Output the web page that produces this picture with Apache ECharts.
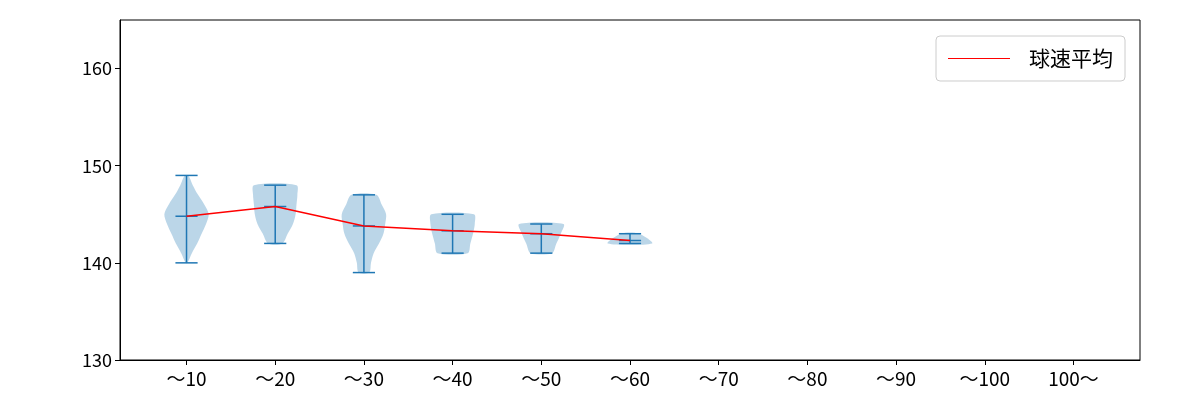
<!doctype html>
<html>
<head>
<meta charset="UTF-8">
<script src="https://cdn.jsdelivr.net/npm/echarts@6/dist/echarts.min.js"></script>
<style>
  html, body { margin: 0; padding: 0; background: #fff; }
  #chart { width: 1200px; height: 400px; }
</style>
</head>
<body>
<div id="chart"></div>
<script>
var categories = ['～10', '～20', '～30', '～40', '～50', '～60', '～70', '～80', '～90', '～100', '100～'];
var means = [144.8, 145.8, 143.8, 143.3, 143.0, 142.3];
var mins  = [140, 142, 139, 141, 141, 142];
var maxs  = [149, 148, 147, 145, 144, 143];
// violin profiles: [speed, half width in category units]
var shape10 = [[140,0.01],[141,0.06],[142,0.12],[143,0.17],[144,0.22],[145,0.25],[146,0.2],[147,0.13],[148,0.07],[149,0.02]];
var shape20 = [[142,0.08],[143,0.14],[144,0.2],[145,0.23],[146,0.24],[147,0.25],[148,0.24]];
var shape30 = [[139,0.06],[140,0.08],[141,0.11],[142,0.17],[143,0.22],[144,0.24],[145,0.25],[146,0.2],[147,0.14]];
var shape40 = [[141,0.17],[142,0.2],[143,0.23],[144,0.25],[145,0.24]];
var shape50 = [[141,0.12],[142,0.17],[143,0.22],[144,0.25]];
var shape60 = [[142,0.25],[143,0.1]];
var shapes = [shape10, shape20, shape30, shape40, shape50, shape60];

var chart = echarts.init(document.getElementById('chart'));

function violin(params, api) {
  var i = api.value(0);
  var prof = shapes[i];
  var right = [], left = [];
  prof.forEach(function (p) {
    right.push(api.coord([i + 1 + p[1], p[0]]));
    left.unshift(api.coord([i + 1 - p[1], p[0]]));
  });
  return {
    type: 'polygon',
    shape: { points: right.concat(left), smooth: 0.3 },
    style: { fill: 'rgba(31,119,180,0.3)', stroke: 'none' }
  };
}

function whisker(params, api) {
  var i = api.value(0);
  var x = i + 1, c = 0.125;
  var st = { stroke: '#1f77b4', lineWidth: 1.5 };
  function seg(x1, y1, x2, y2) {
    var a = api.coord([x1, y1]), b = api.coord([x2, y2]);
    return { type: 'line', shape: { x1: a[0], y1: a[1], x2: b[0], y2: b[1] }, style: st };
  }
  return {
    type: 'group',
    children: [
      seg(x, mins[i], x, maxs[i]),
      seg(x - c, mins[i], x + c, mins[i]),
      seg(x - c, maxs[i], x + c, maxs[i]),
      seg(x - c, means[i], x + c, means[i])
    ]
  };
}

var idx = shapes.map(function (s, i) { return [i]; });
var ticks = categories.map(function (c, i) { return i + 1; });

chart.setOption({
  animation: false,
  textStyle: { fontFamily: 'Noto Sans CJK JP' },
  grid: { left: 120, right: 60, top: 20, bottom: 40, show: true, borderColor: '#000', borderWidth: 1 },
  legend: {
    right: 75, top: 36, itemWidth: 62, itemHeight: 10,
    borderColor: '#ccc', borderWidth: 1, borderRadius: 4, padding: [12, 12],
    textStyle: { fontSize: 21, color: '#000', padding: [0, 0, 0, 14] },
    data: [{ name: '球速平均', icon: 'path://M0,5L60,5L60,6L0,6Z' }]
  },
  xAxis: {
    type: 'value', min: 0.25, max: 11.75,
    splitLine: { show: false },
    axisLine: { lineStyle: { color: '#000' } },
    axisTick: { show: true, customValues: ticks, length: 5, lineStyle: { color: '#000' } },
    axisLabel: {
      customValues: ticks, fontSize: 19, color: '#000', margin: 9,
      formatter: function (v) { return categories[Math.round(v) - 1] || ''; }
    }
  },
  yAxis: {
    type: 'value', min: 130, max: 165, interval: 10,
    splitLine: { show: false },
    axisLine: { show: true, lineStyle: { color: '#000' } },
    axisTick: { show: true, length: 5, lineStyle: { color: '#000' } },
    axisLabel: { fontSize: 18, color: '#000', margin: 8, showMaxLabel: false }
  },
  series: [
    { type: 'custom', renderItem: violin, data: idx, silent: true },
    { type: 'custom', renderItem: whisker, data: idx, silent: true, z: 3 },
    {
      name: '球速平均', type: 'line', z: 4, symbol: 'none',
      lineStyle: { color: 'red', width: 1.5 }, itemStyle: { color: 'red' },
      data: means.map(function (m, i) { return [i + 1, m]; })
    }
  ]
});
</script>
</body>
</html>
